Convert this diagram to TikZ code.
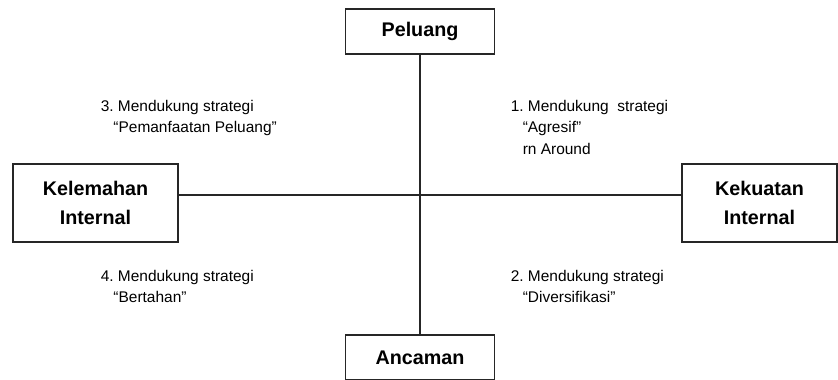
\documentclass[tikz,border=0pt]{standalone}
\usepackage{fontspec}
\setmainfont{Liberation Sans}
\frenchspacing
\begin{document}
\begin{tikzpicture}[x=0.75pt, y=-0.75pt, font=\fontsize{11.6}{16}\selectfont,
        kotak/.style={draw=black!85, line width=1pt, fill=white, align=center, inner sep=0pt,
            font=\fontsize{14.8}{21.5}\selectfont\bfseries},
        garis/.style={black!85, line width=1pt},
        ket/.style={anchor=north west, align=left, inner sep=0pt}]
        \useasboundingbox (0,0) rectangle (838,379);
        \clip (0,0) rectangle (838,379);
        % kotak faktor
        \node[kotak, minimum width=111.75pt, minimum height=33.75pt] (peluang) at (420,31.5) {Peluang};
        \node[kotak, minimum width=111.75pt, minimum height=33.75pt] (ancaman) at (420,357.5) {Ancaman};
        \node[kotak, minimum width=123.75pt, minimum height=58.5pt] (lemah) at (95.5,203) {Kelemahan\\Internal};
        \node[kotak, minimum width=116.25pt, minimum height=58.5pt] (kuat) at (759.5,203) {Kekuatan\\Internal};
        \coordinate (pusat) at (420,195);
        \draw[garis] (peluang) -- (ancaman);
        \draw[garis] (lemah.east |- pusat) -- (kuat.west |- pusat);
        % kuadran
        \node[ket] (k3) at (100.5,100) {3. Mendukung strategi\\\hspace*{9.5pt}“Pemanfaatan Peluang”};
        \node[ket] (k1) at (510.5,100) {1. Mendukung\ \ strategi\\\hspace*{9pt}“Agresif”\\\hspace*{9pt}rn Around};
        \node[ket] (k4) at (100.5,270) {4. Mendukung strategi\\\hspace*{9.5pt}“Bertahan”};
        \node[ket] (k2) at (510.5,270) {2. Mendukung strategi\\\hspace*{9pt}“Diversifikasi”};
    \end{tikzpicture}
\end{document}
